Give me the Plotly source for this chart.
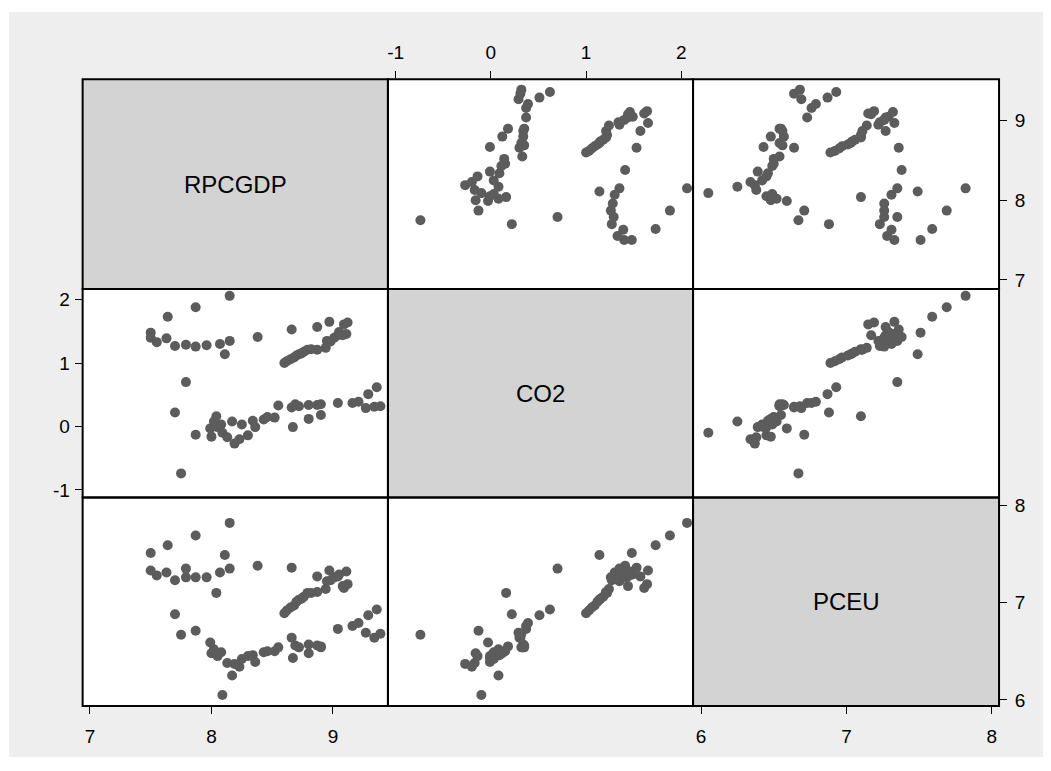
import plotly.graph_objects as go

var_names = ["RPCGDP", "CO2", "PCEU"]

rpcgdp = [7.50, 7.50, 7.55, 7.63, 7.64, 7.70, 7.79, 7.79, 7.87, 7.87,
          7.96, 8.07, 8.11, 8.15, 8.15, 8.38, 8.66, 7.70, 7.75, 7.87,
          7.99, 8.00, 8.04, 8.02, 8.05, 8.08, 8.09, 8.13, 8.17, 8.19,
          8.23, 8.25, 8.30, 8.34, 8.36, 8.43, 8.46, 8.52, 8.55, 8.66,
          8.69, 8.72, 8.67, 8.80, 8.80, 8.87, 8.90, 8.90, 9.04, 9.16,
          9.21, 9.27, 9.34, 9.39, 9.29, 9.36, 8.60, 8.62, 8.65, 8.68,
          8.70, 8.72, 8.74, 8.76, 8.79, 8.82, 8.87, 8.94, 8.95, 8.98,
          9.01, 9.04, 9.05, 9.08, 9.09, 9.11, 9.12, 8.87, 8.97]

co2 = [1.48, 1.40, 1.33, 1.39, 1.73, 1.27, 1.29, 0.70, 1.88, 1.26,
       1.28, 1.30, 1.14, 2.06, 1.35, 1.41, 1.53, 0.22, -0.74, -0.13,
       -0.03, -0.16, 0.16, 0.08, -0.01, 0.03, -0.10, -0.17, 0.08, -0.27,
       -0.20, 0.03, -0.14, 0.09, -0.01, 0.11, 0.15, 0.14, 0.33, 0.30,
       0.35, 0.32, -0.01, 0.34, 0.12, 0.34, 0.35, 0.18, 0.37, 0.37,
       0.39, 0.29, 0.31, 0.32, 0.51, 0.62, 1.00, 1.03, 1.06, 1.09,
       1.12, 1.14, 1.15, 1.18, 1.21, 1.22, 1.21, 1.24, 1.35, 1.34,
       1.40, 1.44, 1.49, 1.44, 1.61, 1.46, 1.64, 1.57, 1.65]

pceu = [7.51, 7.33, 7.28, 7.31, 7.59, 7.23, 7.26, 7.35, 7.69, 7.26,
        7.26, 7.31, 7.49, 7.82, 7.35, 7.38, 7.36, 6.88, 6.67, 6.71,
        6.59, 6.48, 7.10, 6.52, 6.45, 6.49, 6.05, 6.38, 6.25, 6.37,
        6.34, 6.42, 6.45, 6.46, 6.39, 6.49, 6.50, 6.50, 6.54, 6.64,
        6.56, 6.54, 6.43, 6.57, 6.48, 6.56, 6.54, 6.55, 6.73, 6.76,
        6.79, 6.69, 6.64, 6.68, 6.87, 6.93, 6.89, 6.92, 6.95, 6.97,
        7.01, 7.03, 7.04, 7.06, 7.10, 7.10, 7.11, 7.14, 7.22, 7.23,
        7.26, 7.27, 7.29, 7.17, 7.15, 7.32, 7.19, 7.27, 7.33]

tick_values = [[7, 8, 9], [-1, 0, 1, 2], [6, 7, 8]]
tick_labels = [["7", "8", "9"], ["-1", "0", "1", "2"], ["6", "7", "8"]]

# ---- layout geometry (page body adds an 8px offset) ----
OFF = 8
W, H = 1051 - OFF, 771 - OFF
col_px = [v - OFF for v in [81.7, 387.3, 692.7, 999.0]]
row_px = [v - OFF for v in [77.7, 289.3, 499.3, 709.5]]
x_ranges = [[6.940, 9.452], [-1.081, 2.123], [5.945, 8.050]]
y_ranges = [[6.884, 9.522], [-1.119, 2.167], [5.937, 8.082]]

FONT = "Liberation Sans, Arial, Helvetica, sans-serif"
MARK = "#5c5c5c"
OUTER = "#eeeeee"
DIAG = "#d3d3d3"

data = [rpcgdp, co2, pceu]

x_ticked = {(2, 0): "bottom", (2, 2): "bottom", (0, 1): "top"}
y_ticked = {(1, 0): "left", (0, 2): "right", (2, 2): "right"}
standoff = {"bottom": 6, "top": 5, "left": 1, "right": 4}

fig = go.Figure()
layout = dict(
    width=W, height=H,
    margin=dict(l=0, r=0, t=0, b=0),
    paper_bgcolor="white",
    plot_bgcolor="rgba(0,0,0,0)",
    showlegend=False,
    font=dict(family=FONT, color="black"),
)

shapes = [dict(type="rect", xref="paper", yref="paper",
               x0=(8 - OFF) / W, x1=(1043 - OFF) / W,
               y0=1 - (761 - OFF) / H, y1=1 - (10 - OFF) / H,
               fillcolor=OUTER, line=dict(width=0), layer="below")]
borders = []
annotations = []

for r in range(3):
    for c in range(3):
        k = r * 3 + c + 1
        sx = "" if k == 1 else str(k)
        xd = [col_px[c] / W, col_px[c + 1] / W]
        yd = [1 - row_px[r + 1] / H, 1 - row_px[r] / H]

        shapes.append(dict(type="rect", xref="paper", yref="paper",
                           x0=xd[0], x1=xd[1], y0=yd[0], y1=yd[1],
                           fillcolor=DIAG if r == c else "white",
                           line=dict(width=0), layer="below"))
        borders.append(dict(type="rect", xref="paper", yref="paper",
                            x0=xd[0], x1=xd[1], y0=yd[0], y1=yd[1],
                            fillcolor="rgba(0,0,0,0)",
                            line=dict(width=2, color="black"), layer="above"))

        xside = x_ticked.get((r, c), "top" if r == 0 else "bottom")
        yside = y_ticked.get((r, c), "right" if c == 2 else "left")
        showx = (r, c) in x_ticked
        showy = (r, c) in y_ticked

        layout["xaxis" + sx] = dict(
            domain=xd, range=x_ranges[c], anchor="y" + sx, side=xside,
            showgrid=False, zeroline=False, showline=False,
            tickvals=tick_values[c] if showx else [],
            ticktext=tick_labels[c] if showx else [],
            ticks="outside" if showx else "", ticklen=7, tickwidth=1.4,
            tickcolor="black", showticklabels=showx,
            ticklabelstandoff=standoff[xside],
            tickfont=dict(size=19, family=FONT, color="black"),
            fixedrange=True,
        )
        layout["yaxis" + sx] = dict(
            domain=yd, range=y_ranges[r], anchor="x" + sx, side=yside,
            showgrid=False, zeroline=False, showline=False,
            tickvals=tick_values[r] if showy else [],
            ticktext=tick_labels[r] if showy else [],
            ticks="outside" if showy else "", ticklen=7, tickwidth=1.4,
            tickcolor="black", showticklabels=showy,
            ticklabelstandoff=standoff[yside],
            tickfont=dict(size=19, family=FONT, color="black"),
            fixedrange=True,
        )

        if r == c:
            fig.add_trace(go.Scatter(x=[], y=[], xaxis="x" + sx, yaxis="y" + sx,
                                     mode="markers", hoverinfo="skip"))
            annotations.append(dict(
                text=var_names[r], xref="paper", yref="paper",
                x=(xd[0] + xd[1]) / 2, y=(yd[0] + yd[1]) / 2,
                xanchor="center", yanchor="middle", showarrow=False,
                font=dict(size=24, family=FONT, color="black")))
        else:
            fig.add_trace(go.Scatter(
                x=data[c], y=data[r], xaxis="x" + sx, yaxis="y" + sx,
                mode="markers",
                marker=dict(size=10, color=MARK, line=dict(width=0)),
                name=f"{var_names[r]} vs {var_names[c]}"))

layout["shapes"] = shapes + borders
layout["annotations"] = annotations
fig.update_layout(**layout)
fig.write_html("out.html")
